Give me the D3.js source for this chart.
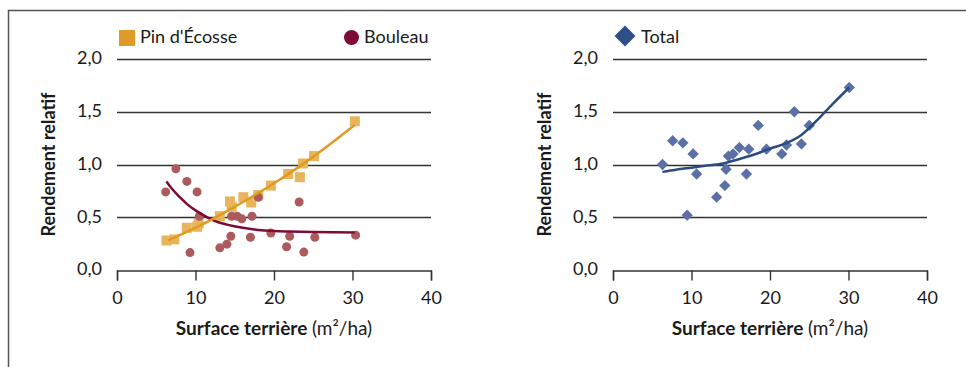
<!DOCTYPE html>
<html lang='fr'>
	<head>
		<meta charset='utf-8'>
		<title>Rendement relatif</title>
		<script type='text/javascript' src='https://d3js.org/d3.v7.min.js'></script>
		<style type='text/css'>
			body {
				margin: 0;
				background: white;
			}
			svg text {
				font-family: Lato, 'Noto Sans', sans-serif;
				fill: #1a1a1a;
			}
		</style>
	</head>
	<body>
		<script type='text/javascript'>
			// values
			var xTicks = [0, 10, 20, 30, 40];
			var yTicks = [0, 0.5, 1.0, 1.5, 2.0];

			var pineX = [6.3, 7.3, 8.9, 10.2, 10.4, 13.1, 14.4, 14.6, 16.1, 17.1, 18.0, 19.6, 21.8, 23.3, 23.7, 25.1, 30.3];
			var pineY = [0.28, 0.29, 0.40, 0.41, 0.44, 0.51, 0.65, 0.60, 0.69, 0.64, 0.71, 0.80, 0.91, 0.88, 1.01, 1.08, 1.41];

			var birchX = [6.2, 7.5, 8.9, 9.3, 10.2, 10.5, 13.1, 14.0, 14.5, 14.6, 15.3, 15.9, 17.2, 17.0, 18.0, 19.6, 21.6, 22.0, 23.2, 23.8, 25.2, 30.4];
			var birchY = [0.74, 0.96, 0.84, 0.165, 0.74, 0.51, 0.21, 0.245, 0.32, 0.51, 0.51, 0.485, 0.51, 0.31, 0.69, 0.35, 0.22, 0.32, 0.645, 0.17, 0.31, 0.33];

			var totalX = [6.3, 7.6, 8.9, 9.45, 10.2, 10.65, 13.2, 14.25, 14.4, 14.7, 15.3, 16.1, 17.0, 17.3, 18.5, 19.55, 21.5, 22.1, 23.1, 24.0, 25.0, 30.1];
			var totalY = [1.0, 1.225, 1.205, 0.52, 1.10, 0.91, 0.69, 0.80, 0.955, 1.08, 1.10, 1.16, 0.91, 1.145, 1.37, 1.145, 1.10, 1.185, 1.50, 1.195, 1.37, 1.73];

			// trend lines, sampled along the drawn curves
			var pineTrendX = [6.5, 9, 12, 15, 18, 21, 24, 27, 30.3];
			var pineTrendY = [0.28, 0.365, 0.475, 0.60, 0.73, 0.87, 1.02, 1.185, 1.375];
			var birchTrendX = [6.3, 7, 8, 9, 10, 11, 12, 13, 14, 16, 18, 20, 22, 25, 30.3];
			var birchTrendY = [0.84, 0.77, 0.69, 0.62, 0.565, 0.52, 0.48, 0.45, 0.43, 0.40, 0.38, 0.37, 0.365, 0.36, 0.355];
			var totalTrendX = [6.3, 8, 10, 12, 14, 16, 18, 20, 22, 24, 26, 28, 30.1];
			var totalTrendY = [0.93, 0.95, 0.97, 0.99, 1.01, 1.05, 1.095, 1.15, 1.20, 1.28, 1.42, 1.575, 1.73];

			var w = 966;
			var h = 367;

			var svg = d3.select('body')
									.append('svg')
									.attr('width', w)
									.attr('height', h);

			// frame (top and left edges only)
			svg.append('path')
				.attr('d', 'M8.5,' + h + 'V10.5H' + w)
				.attr('fill', 'none')
				.attr('stroke', '#555')
				.attr('stroke-width', 1.5);

			var fmt = function(d) { return d3.format('.1f')(d).replace('.', ','); };
			var zip = function(xs, ys) { return xs.map(function(x, i) { return [x, ys[i]]; }); };

			function drawPanel(x0, x1) {
				var xScale = d3.scaleLinear().domain([0, 40]).range([x0, x1]);
				var yScale = d3.scaleLinear().domain([0, 2]).range([270, 59]);
				var g = svg.append('g');

				// gridlines
				g.selectAll('line.grid')
					.data(yTicks.slice(1))
					.enter()
					.append('line')
					.attr('class', 'grid')
					.attr('x1', x0)
					.attr('x2', x1)
					.attr('y1', function(d) { return Math.round(yScale(d)) + 0.5; })
					.attr('y2', function(d) { return Math.round(yScale(d)) + 0.5; })
					.attr('stroke', '#333')
					.attr('stroke-width', 1.4);

				// y labels
				g.selectAll('text.ylab')
					.data(yTicks)
					.enter()
					.append('text')
					.attr('class', 'ylab')
					.attr('x', x0 - 15)
					.attr('y', function(d) { return yScale(d); })
					.attr('dy', '0.3em')
					.attr('text-anchor', 'end')
					.style('font-size', '18px')
					.text(fmt);

				// x axis
				var xAxis = d3.axisBottom(xScale)
											.tickValues(xTicks)
											.tickSize(10)
											.tickPadding(11);
				var ax = g.append('g')
					.attr('transform', 'translate(0,' + (Math.round(yScale(0)) + 0.5) + ')')
					.call(xAxis);
				ax.select('.domain').attr('stroke', '#333').attr('stroke-width', 1.4);
				ax.selectAll('.tick line').attr('stroke', '#333').attr('stroke-width', 1.4);
				ax.selectAll('.tick text')
					.style('font-size', '18px')
					.style('font-family', 'Lato, sans-serif')
					.attr('fill', '#1a1a1a');

				// axis titles
				var cx = (x0 + x1) / 2;
				var xt = g.append('text')
					.attr('x', cx)
					.attr('y', 335)
					.attr('text-anchor', 'middle')
					.style('font-size', '19px');
				xt.append('tspan').style('font-weight', 'bold').text('Surface terrière ');
				xt.append('tspan').text('(m²/ha)');

				g.append('text')
					.attr('transform', 'translate(' + (x0 - 62) + ',' + yScale(1) + ') rotate(-90)')
					.attr('text-anchor', 'middle')
					.style('font-size', '18px')
					.style('font-weight', 'bold')
					.text('Rendement relatif');

				return { g: g, x: xScale, y: yScale };
			}

			var left = drawPanel(117, 431);
			var right = drawPanel(613, 927);

			var line = function(p) {
				return d3.line()
					.x(function(d) { return p.x(d[0]); })
					.y(function(d) { return p.y(d[1]); })
					.curve(d3.curveMonotoneX);
			};

			// Pin d'Ecosse points
			left.g.selectAll('rect.pine')
				.data(zip(pineX, pineY))
				.enter()
				.append('rect')
				.attr('class', 'pine')
				.attr('x', function(d) { return left.x(d[0]) - 5; })
				.attr('y', function(d) { return left.y(d[1]) - 5; })
				.attr('width', 10)
				.attr('height', 10)
				.attr('fill', '#e9b55c');

			// Bouleau points
			left.g.selectAll('circle.birch')
				.data(zip(birchX, birchY))
				.enter()
				.append('circle')
				.attr('class', 'birch')
				.attr('cx', function(d) { return left.x(d[0]); })
				.attr('cy', function(d) { return left.y(d[1]); })
				.attr('r', 4.5)
				.attr('fill', '#ad5a5e');

			left.g.append('path')
				.datum(zip(birchTrendX, birchTrendY))
				.attr('d', line(left))
				.attr('fill', 'none')
				.attr('stroke', '#7d0b37')
				.attr('stroke-width', 2.5);

			left.g.append('path')
				.datum(zip(pineTrendX, pineTrendY))
				.attr('d', line(left))
				.attr('fill', 'none')
				.attr('stroke', '#e09a22')
				.attr('stroke-width', 2.5);

			// Total points
			right.g.selectAll('path.total')
				.data(zip(totalX, totalY))
				.enter()
				.append('path')
				.attr('class', 'total')
				.attr('d', d3.symbol(d3.symbolSquare, 64))
				.attr('transform', function(d) {
					return 'translate(' + right.x(d[0]) + ',' + right.y(d[1]) + ') rotate(45)';
				})
				.attr('fill', '#5a70a6');

			right.g.append('path')
				.datum(zip(totalTrendX, totalTrendY))
				.attr('d', line(right))
				.attr('fill', 'none')
				.attr('stroke', '#2b4b85')
				.attr('stroke-width', 2.5);

			// legends
			var lg = svg.append('g');
			lg.append('rect')
				.attr('x', 119).attr('y', 30)
				.attr('width', 16).attr('height', 16)
				.attr('fill', '#e09a28');
			lg.append('text')
				.attr('x', 140).attr('y', 43)
				.style('font-size', '18px')
				.text("Pin d'Écosse");
			lg.append('circle')
				.attr('cx', 351.5).attr('cy', 37.5)
				.attr('r', 7.5)
				.attr('fill', '#7d0b37');
			lg.append('text')
				.attr('x', 364).attr('y', 43)
				.style('font-size', '18px')
				.text('Bouleau');
			lg.append('path')
				.attr('d', d3.symbol(d3.symbolSquare, 220))
				.attr('transform', 'translate(625,36) rotate(45)')
				.attr('fill', '#2f4f8a');
			lg.append('text')
				.attr('x', 641).attr('y', 43)
				.style('font-size', '18px')
				.text('Total');
		</script>
	</body>
</html>
